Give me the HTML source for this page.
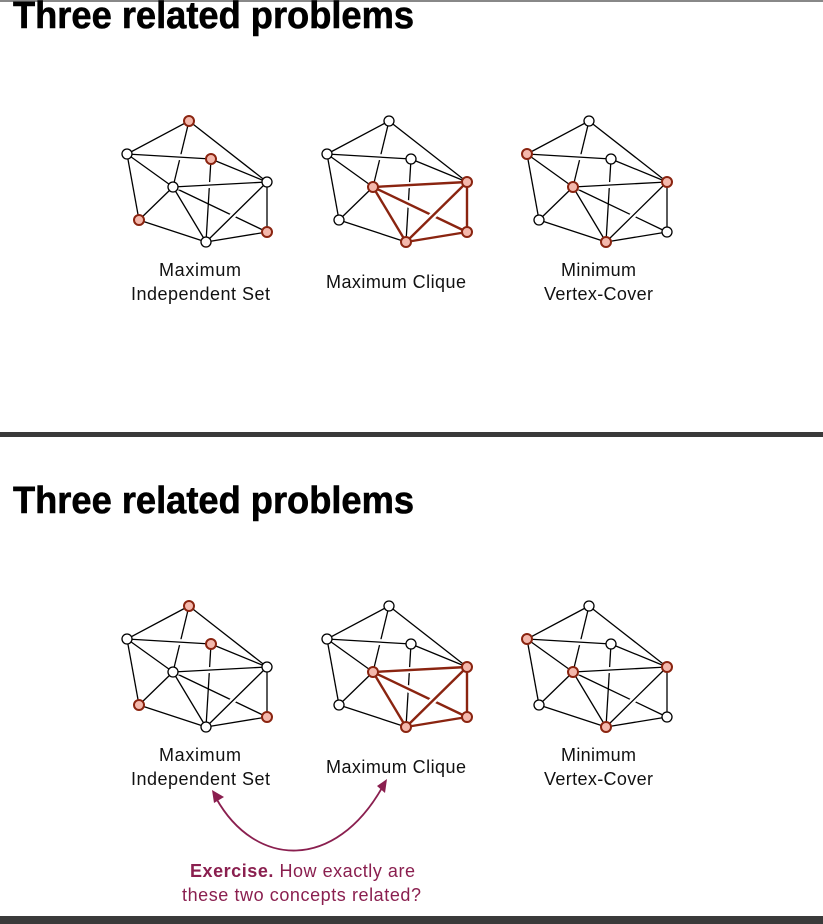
<!DOCTYPE html>
<html><head><style>
html,body{margin:0;padding:0;background:#fff;}
svg{display:block;font-family:"Liberation Sans",Arial,sans-serif;}
</style></head><body>
<svg width="823" height="924" viewBox="0 0 823 924" xmlns="http://www.w3.org/2000/svg">
<defs>
<g id="gr">
  <g stroke="#000" stroke-width="1.3">
    <line x1="189" y1="121" x2="173" y2="187"/>
    <line x1="211" y1="159" x2="206" y2="242"/>
    <line x1="173" y1="187" x2="267" y2="232"/>
  </g>
  <g stroke="#fff" stroke-width="6">
    <line x1="127" y1="154" x2="211" y2="159"/>
    <line x1="173" y1="187" x2="267" y2="182"/>
    <line x1="267" y1="182" x2="206" y2="242"/>
  </g>
  <g stroke="#000" stroke-width="1.3">
    <line x1="189" y1="121" x2="127" y2="154"/>
    <line x1="189" y1="121" x2="267" y2="182"/>
    <line x1="127" y1="154" x2="211" y2="159"/>
    <line x1="127" y1="154" x2="173" y2="187"/>
    <line x1="127" y1="154" x2="139" y2="220"/>
    <line x1="211" y1="159" x2="267" y2="182"/>
    <line x1="173" y1="187" x2="267" y2="182"/>
    <line x1="173" y1="187" x2="139" y2="220"/>
    <line x1="173" y1="187" x2="206" y2="242"/>
    <line x1="267" y1="182" x2="206" y2="242"/>
    <line x1="267" y1="182" x2="267" y2="232"/>
    <line x1="139" y1="220" x2="206" y2="242"/>
    <line x1="206" y1="242" x2="267" y2="232"/>
  </g>
</g>
<g id="clq" stroke="#8a2410" stroke-width="2.4" fill="none">
  <line x1="373" y1="187" x2="467" y2="232" stroke="#fff" stroke-width="7"/>
  <line x1="373" y1="187" x2="467" y2="232"/>
  <line x1="467" y1="182" x2="406" y2="242" stroke="#fff" stroke-width="7"/>
  <line x1="373" y1="187" x2="467" y2="182"/>
  <line x1="373" y1="187" x2="406" y2="242"/>
  <line x1="467" y1="182" x2="406" y2="242"/>
  <line x1="467" y1="182" x2="467" y2="232"/>
  <line x1="406" y1="242" x2="467" y2="232"/>
</g>
</defs>

<rect x="0" y="0" width="823" height="2" fill="#888"/>

<g id="slide">
  <text x="13" y="28" font-size="38" font-weight="bold" stroke="#000" stroke-width="0.6" textLength="401" lengthAdjust="spacingAndGlyphs">Three related problems</text>
  <use href="#gr"/>
  <use href="#gr" x="200"/>
  <use href="#gr" x="400"/>
  <use href="#clq"/>
  <g stroke-width="1.3" stroke="#000" fill="#fff">
    <circle cx="127" cy="154" r="5"/><circle cx="173" cy="187" r="5"/><circle cx="267" cy="182" r="5"/><circle cx="206" cy="242" r="5"/>
    <circle cx="389" cy="121" r="5"/><circle cx="327" cy="154" r="5"/><circle cx="411" cy="159" r="5"/><circle cx="339" cy="220" r="5"/>
    <circle cx="589" cy="121" r="5"/><circle cx="611" cy="159" r="5"/><circle cx="539" cy="220" r="5"/><circle cx="667" cy="232" r="5"/>
  </g>
  <g stroke-width="2" stroke="#8a2410" fill="#f4b8ac">
    <circle cx="189" cy="121" r="5"/><circle cx="211" cy="159" r="5"/><circle cx="139" cy="220" r="5"/><circle cx="267" cy="232" r="5"/>
    <circle cx="373" cy="187" r="5"/><circle cx="467" cy="182" r="5"/><circle cx="406" cy="242" r="5"/><circle cx="467" cy="232" r="5"/>
    <circle cx="527" cy="154" r="5"/><circle cx="573" cy="187" r="5"/><circle cx="667" cy="182" r="5"/><circle cx="606" cy="242" r="5"/>
  </g>
  <g font-size="18" fill="#111" lengthAdjust="spacingAndGlyphs">
    <text x="159" y="276" textLength="82">Maximum</text>
    <text x="131" y="300" textLength="139">Independent Set</text>
    <text x="326" y="288" textLength="140">Maximum Clique</text>
    <text x="561" y="276" textLength="75">Minimum</text>
    <text x="544" y="300" textLength="109">Vertex-Cover</text>
  </g>
</g>

<rect x="0" y="432" width="823" height="5" fill="#3a3a3a"/>

<use href="#slide" y="485"/>

<path d="M216,798 C255,868 335,872 383,786" fill="none" stroke="#8a1f4f" stroke-width="1.8"/>
<polygon points="212,790 224,797 214,803" fill="#8a1f4f"/>
<polygon points="387,779 385,793 377,786" fill="#8a1f4f"/>
<g font-size="18" fill="#8a1f4f" lengthAdjust="spacingAndGlyphs">
  <text x="190" y="877" textLength="225"><tspan font-weight="bold">Exercise.</tspan> How exactly are</text>
  <text x="182" y="901" textLength="239">these two concepts related?</text>
</g>

<rect x="0" y="916" width="823" height="8" fill="#3a3a3a"/>
</svg>
</body></html>
